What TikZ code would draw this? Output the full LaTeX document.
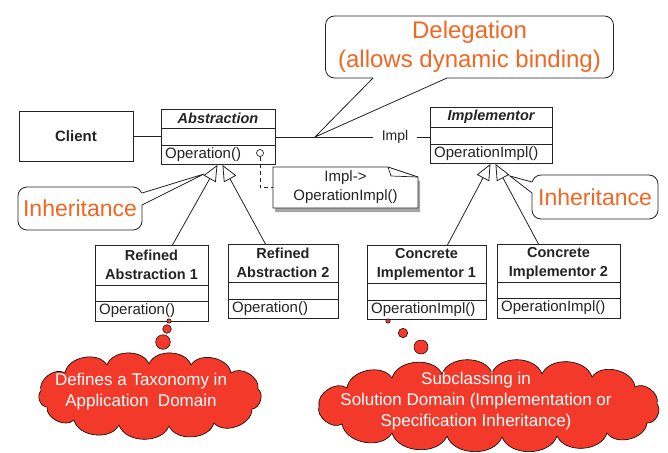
\documentclass[tikz,border=0pt]{standalone}
\usepackage{fontspec}
\setmainfont{Liberation Sans}
\usetikzlibrary{arrows.meta,shadows,calc}
\definecolor{calloutorange}{RGB}{242,102,34}
\definecolor{cloudred}{RGB}{243,58,42}
\definecolor{ink}{RGB}{35,35,35}
\newcommand\umlclass[9]{%
  \node[classbox, anchor=north west, minimum width={#4-#2}, minimum height={#5-#3}, inner sep=0pt] (#1) at (#2,#3) {};
  \draw[classbox] (#2,#6) -- (#4,#6);
  \draw[classbox] (#2,#7) -- (#4,#7);
  \node[ctitle] at ({(#2+#4)/2},{(#3+#6)/2}) {#8};
  \node[cop] at ({#2+4},{(#7+#5)/2}) {#9};
}
\begin{document}
\begin{tikzpicture}[x=1pt,y=-1pt,
  classbox/.style={draw=ink, line width=0.9pt},
  ctitle/.style={font=\fontsize{14.5}{19}\selectfont\bfseries, text=ink, align=center, inner sep=0pt},
  cop/.style={font=\fontsize{15}{18}\selectfont, text=ink, inner sep=0pt, anchor=west},
  callbox/.style={draw=ink, rounded corners=9pt, fill=white, line width=0.8pt, text=calloutorange, align=center, inner sep=0pt},
  pointer/.style={draw=ink, line width=0.8pt},
  gen/.style={draw=ink, line width=0.8pt, -{Triangle[open, length=16pt, width=14pt]}},
  bubble/.style={draw=black, fill=cloudred, line width=0.5pt},
  puffs/.style={draw=black, fill=cloudred, line width=0.6pt, line join=round},
  pf/.style={bend left=70},
  cloudtext/.style={text=white, font=\fontsize{17}{21}\selectfont, align=center, inner sep=0pt}]
\useasboundingbox (0,0) rectangle (668,452);

% callouts
\node[callbox, minimum width=288, minimum height=62, font=\fontsize{24}{29}\selectfont] (deleg) at (469.5,47) {Delegation\\(allows dynamic binding)};
\coordinate (delegtip) at (315,137);
\fill[white] (373.5,76.5) -- (373,78) -- (delegtip) -- (447,78) -- (446.5,76.5) -- cycle;
\draw[pointer] (373,78) -- (delegtip) -- (447,78);

\node[callbox, minimum width=124, minimum height=43, font=\fontsize{23}{27}\selectfont] (inhL) at (80,208.5) {Inheritance};
\coordinate (inhLtip) at (204,174);
\fill[white] (140.5,193.5) -- (142,193) -- (inhLtip) -- (142,205) -- (140.5,204.5) -- cycle;
\draw[pointer] (142,193) -- (inhLtip) -- (142,205);

\node[callbox, minimum width=126, minimum height=44, font=\fontsize{23}{27}\selectfont] (inhR) at (595,197) {Inheritance};
\coordinate (inhRtip) at (510,176);
\fill[white] (533.5,182.5) -- (532,182) -- (inhRtip) -- (532,193) -- (533.5,192.5) -- cycle;
\draw[pointer] (532,182) -- (inhRtip) -- (532,193);

% classes
\node[classbox, font=\fontsize{15}{18}\selectfont\bfseries, text=ink, minimum width=114, minimum height=50] (client) at (76,136) {Client};
\umlclass{abs}{161}{109}{275}{164}{128}{145}{\itshape Abstraction}{Operation()}
\umlclass{imp}{430}{107}{552}{163}{127}{144}{\itshape Implementor}{OperationImpl()}
\umlclass{ra1}{95}{245}{208}{321}{285}{301}{Refined\\Abstraction 1}{Operation()}
\umlclass{ra2}{228}{244}{338}{318}{282}{299}{Refined\\Abstraction 2}{Operation()}
\umlclass{ci1}{367}{245}{486}{319}{283}{300}{Concrete\\Implementor 1}{OperationImpl()}
\umlclass{ci2}{497}{244}{620}{318}{282}{298}{Concrete\\Implementor 2}{OperationImpl()}

% associations
\node[font=\fontsize{14}{17}\selectfont, text=ink, inner xsep=9pt, inner ysep=2pt] (impllab) at (395,137) {Impl};
\draw[pointer] (client.east) -- (abs.west |- client.east);
\draw[pointer] (abs.east |- impllab) -- (impllab.west);
\draw[pointer] (impllab.east) -- (imp.west |- impllab);

% note
\path[draw=ink, fill=white, line width=0.8pt, drop shadow={shadow xshift=2pt, shadow yshift=-4pt, opacity=0.35, fill=black}]
  (273,167) -- (388,167) -- (418,177) -- (418,208) -- (273,208) -- cycle;
\draw[ink, line width=0.7pt] (388,167) -- (391,176) -- (418,177);
\node[minimum width=145, minimum height=41, inner sep=0pt, align=center, font=\fontsize{15}{19}\selectfont, text=ink] (note) at (345.5,187.5) {Impl->\\OperationImpl()};
\node[draw=ink, circle, minimum size=7, inner sep=0pt, line width=0.7pt] (opcirc) at (260,153) {};
\draw[ink, line width=0.8pt, dash pattern=on 4pt off 3pt] (opcirc.south) |- (note.west);

% generalizations
\draw[gen] ($(ra1.north)+(20.5,0)$) -- ($(abs.south)+(-1,0)$);
\draw[gen] ($(ra2.north)+(-18,0)$) -- ($(abs.south)+(4,0)$);
\draw[gen] ($(ci1.north)+(20.5,0)$) -- ($(imp.south)+(-1,0)$);
\draw[gen] ($(ci2.north)+(-20.5,0)$) -- ($(imp.south)+(4,0)$);

% left cloud
\filldraw[bubble] (169,321) circle[radius=2.2pt];
\filldraw[bubble] (167,329) circle[radius=4.3pt];
\filldraw[bubble] (163,342) circle[radius=7.3pt];
\begin{scope}[shift={(149,395)}]
\path[puffs] (-108,-4) to[pf] (-84,-22) to[pf] (-42,-30) to[pf] (0,-31) to[pf] (42,-30)
  to[pf] (82,-22) to[pf] (109,-6) to[pf] (103,14) to[pf] (65,28) to[pf] (20,31)
  to[pf] (-30,30) to[pf] (-75,25) to[pf] (-102,12) to[pf] (-108,-4) -- cycle;
\end{scope}
\node[cloudtext] (cloudLtext) at (141,392) {Defines a Taxonomy in\\Application\ \ Domain};

% right cloud
\filldraw[bubble] (388,321) circle[radius=2.2pt];
\filldraw[bubble] (403,333) circle[radius=4.7pt];
\filldraw[bubble] (421,347) circle[radius=7pt];
\begin{scope}[shift={(487,404)}]
\path[puffs] (-168,2) to[pf] (-140,-16) to[pf] (-95,-26) to[pf] (-45,-30) to[pf] (5,-31)
  to[pf] (55,-30) to[pf] (105,-27) to[pf] (148,-17) to[pf] (170,0) to[pf] (160,19)
  to[pf] (120,29) to[pf] (70,32) to[pf] (15,33) to[pf] (-40,32) to[pf] (-95,29)
  to[pf] (-145,20) to[pf] (-168,2) -- cycle;
\end{scope}
\node[cloudtext] (cloudRtext) at (476,401) {Subclassing in\\Solution Domain (Implementation or\\Specification Inheritance)};
\end{tikzpicture}
\end{document}
